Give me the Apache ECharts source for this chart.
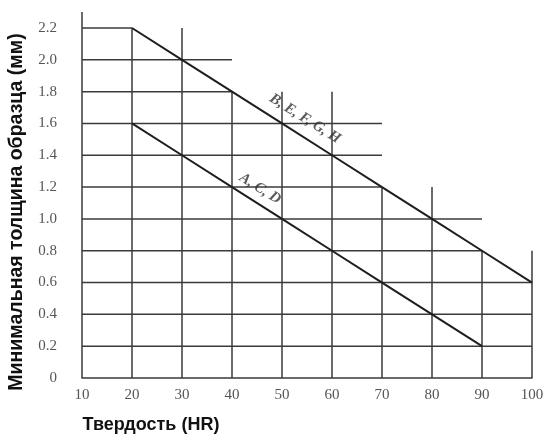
<!DOCTYPE html>
<html>
<head>
<meta charset="utf-8">
<script src="https://cdn.jsdelivr.net/npm/echarts@6/dist/echarts.min.js"></script>
<style>html,body{margin:0;padding:0;background:#fff;}#c{width:548px;height:436px;}</style>
</head>
<body>
<div id="c"></div>
<script>
// Hardness (HR) values
var hardnessBVFGH = [20, 30, 40, 50, 60, 70, 80, 90, 100];
var thicknessBVFGH = [2.2, 2.0, 1.8, 1.6, 1.4, 1.2, 1.0, 0.8, 0.6];
var hardnessACD = [20, 30, 40, 50, 60, 70, 80, 90];
var thicknessACD = [1.6, 1.4, 1.2, 1.0, 0.8, 0.6, 0.4, 0.2];
var xTicks = [10, 20, 30, 40, 50, 60, 70, 80, 90, 100];
var yTicks = [0, 0.2, 0.4, 0.6, 0.8, 1.0, 1.2, 1.4, 1.6, 1.8, 2.0, 2.2];
// partial grid lines: [y, xFrom, xTo]
var hGrid = [[2.2,10,20],[2.0,10,40],[1.8,10,40],[1.6,10,70],[1.4,10,70],[1.2,10,70],[1.0,10,90],[0.8,10,90],[0.6,10,100],[0.4,10,100],[0.2,10,100]];
// [x, yFrom, yTo]
var vGrid = [[10,0,2.3],[20,0,2.2],[30,0,2.2],[40,0,1.8],[50,0,1.8],[60,0,1.8],[70,0,1.2],[80,0,1.2],[90,0,0.8],[100,0,0.8]];
var lineLabels = [
  {name: 'B, E, F, G, H', x: 54.6, y: 1.63},
  {name: 'A, C, D', x: 45.6, y: 1.19}
];
var xTitle = 'Твердость (HR)';
var yTitle = 'Минимальная толщина образца (мм)';

var series = [];
var gridStyle = {color: '#3a3a3a', width: 1.5};
hGrid.forEach(function (g) {
  series.push({type: 'line', data: [[g[1], g[0]], [g[2], g[0]]], symbol: 'none', clip: false, silent: true, lineStyle: gridStyle, z: 1});
});
vGrid.forEach(function (g) {
  series.push({type: 'line', data: [[g[0], g[1]], [g[0], g[2]]], symbol: 'none', clip: false, silent: true, lineStyle: gridStyle, z: 1});
});
series.push({type: 'line', name: 'B, E, F, G, H', data: hardnessBVFGH.map(function (h, i) { return [h, thicknessBVFGH[i]]; }), symbol: 'none', clip: false, lineStyle: {color: '#1e1e1e', width: 2}, z: 3});
series.push({type: 'line', name: 'A, C, D', data: hardnessACD.map(function (h, i) { return [h, thicknessACD[i]]; }), symbol: 'none', clip: false, lineStyle: {color: '#1e1e1e', width: 2}, z: 3});
series.push({
  type: 'scatter', symbol: 'circle', symbolSize: 2, z: 4, clip: false,
  itemStyle: {color: 'rgba(0,0,0,0)'},
  data: lineLabels.map(function (l) { return {value: [l.x, l.y], name: l.name}; }),
  label: {show: true, position: 'inside', formatter: '{b}', rotate: -32, color: '#333', fontFamily: 'Liberation Serif', fontStyle: 'italic', fontWeight: 'bold', fontSize: 15}
});

var chart = echarts.init(document.getElementById('c'), null, {renderer: 'canvas'});
chart.setOption({
  animation: false,
  backgroundColor: '#fff',
  grid: {left: 82, right: 16, top: 28, bottom: 58, containLabel: false},
  xAxis: {
    type: 'value', min: 10, max: 100, interval: 10,
    axisLine: {show: true, lineStyle: {color: '#3a3a3a', width: 1.5}},
    axisTick: {show: false}, splitLine: {show: false},
    axisLabel: {margin: 10, color: '#555', fontFamily: 'Liberation Serif', fontSize: 15,
      customValues: xTicks}
  },
  yAxis: {
    type: 'value', min: 0, max: 2.2, interval: 0.2,
    axisLine: {show: false}, axisTick: {show: false}, splitLine: {show: false},
    axisLabel: {margin: 25, align: 'right', color: '#555', fontFamily: 'Liberation Serif', fontSize: 15,
      customValues: yTicks,
      formatter: function (v) { return v === 0 ? '0' : v.toFixed(1); }}
  },
  graphic: [
    {type: 'text', x: 151, y: 425, style: {text: xTitle, font: 'bold 18px "Liberation Sans"', fill: '#111', align: 'center', verticalAlign: 'middle'}},
    {type: 'text', x: 17, y: 212, rotation: Math.PI / 2, style: {text: yTitle, font: 'bold 19.5px "Liberation Sans"', fill: '#111', align: 'center', verticalAlign: 'middle'}}
  ],
  series: series
});
</script>
</body>
</html>
